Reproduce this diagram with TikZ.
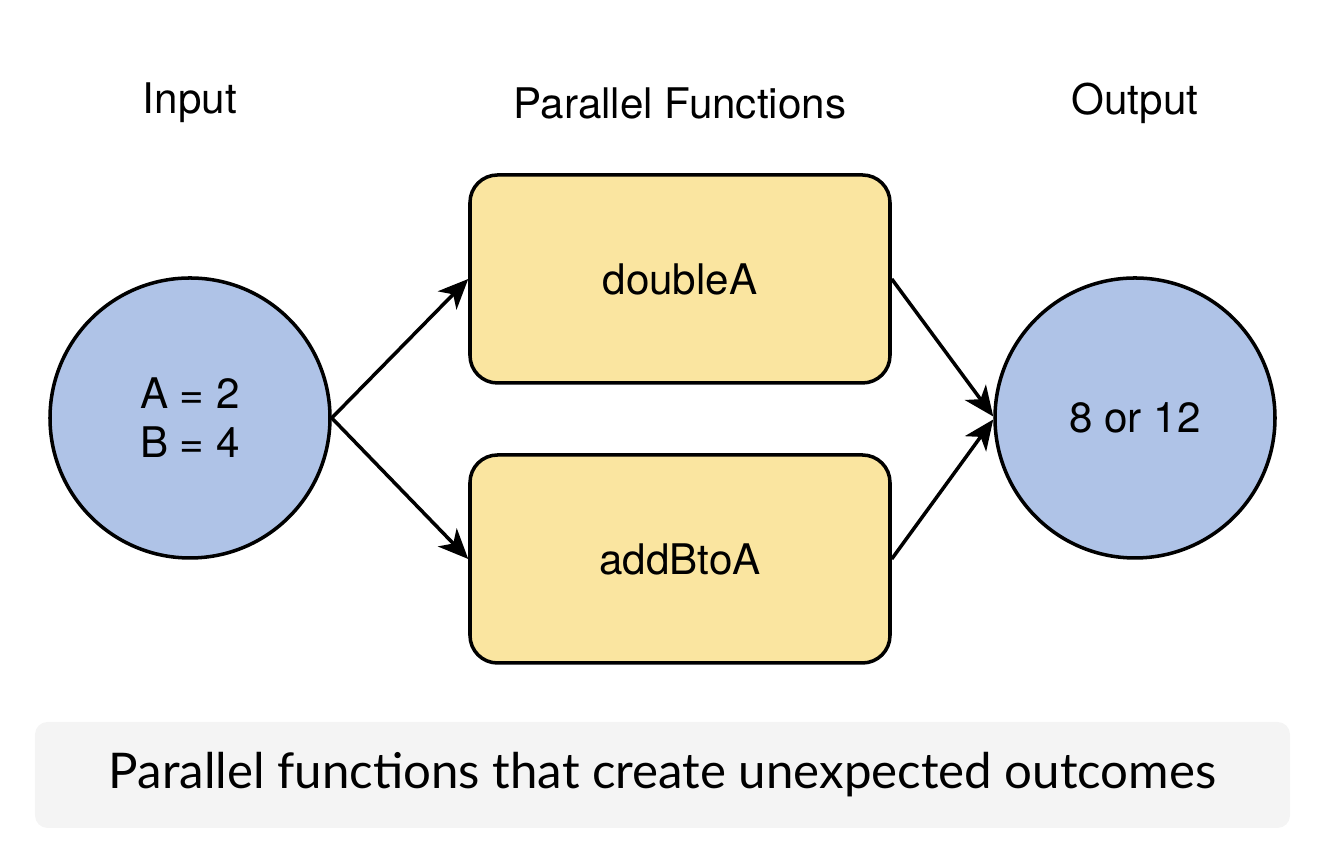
\documentclass[tikz,border=0pt]{standalone}
\usepackage{fontspec}
\setmainfont{TeX Gyre Heros}
\newfontfamily\captionfont{Lato}
\usepackage{xcolor}
\usetikzlibrary{arrows.meta,positioning}
\definecolor{inblue}{HTML}{AFC3E7}
\definecolor{fnyellow}{HTML}{FAE5A0}
\definecolor{capgray}{HTML}{F4F4F4}
\tikzstyle{arrow} = [line width=2pt,-{Stealth[length=0.6cm,width=0.52cm,inset=0.17cm]}]
\tikzstyle{valcircle} = [circle, draw, line width=2pt, fill=inblue, minimum size=5.6cm, font=\fontsize{24}{28}\selectfont, align=center]
\tikzstyle{fnbox} = [rectangle, rounded corners=0.55cm, draw, line width=2pt, fill=fnyellow, minimum width=8.4cm, minimum height=4.16cm, font=\fontsize{24}{28}\selectfont]
\tikzstyle{heading} = [font=\fontsize{24}{28}\selectfont]

\begin{document}
\begin{tikzpicture}
    \useasboundingbox (0,0) rectangle (26.6,16.84);
    % column headings
    \node[heading] (hin) at (3.8,14.78) {Input};
    \node[heading] (hfn) at (13.6,14.78) {Parallel Functions};
    \node[heading] (hout) at (22.7,14.78) {Output};
    % values and functions
    \node[valcircle] (inval) at (3.8,8.48) {A = 2\\B = 4};
    \node[fnbox] (dbl) at (13.6,11.26) {doubleA};
    \node[fnbox] (addb) at (13.6,5.66) {addBtoA};
    \node[valcircle] (outval) at (22.7,8.48) {8 or 12};
    \draw[arrow] (inval.east) -- (dbl.west);
    \draw[arrow] (inval.east) -- (addb.west);
    \draw[arrow] (dbl.east) -- ([yshift=0.03cm]outval.west);
    \draw[arrow] (addb.east) -- ([yshift=-0.03cm]outval.west);
    % caption
    \node[rectangle, rounded corners=0.25cm, fill=capgray, minimum width=25.1cm, minimum height=2.12cm, font=\captionfont\fontsize{28}{32}\selectfont] (cap) at (13.25,1.34) {Parallel functions that create unexpected outcomes};
\end{tikzpicture}
\end{document}
